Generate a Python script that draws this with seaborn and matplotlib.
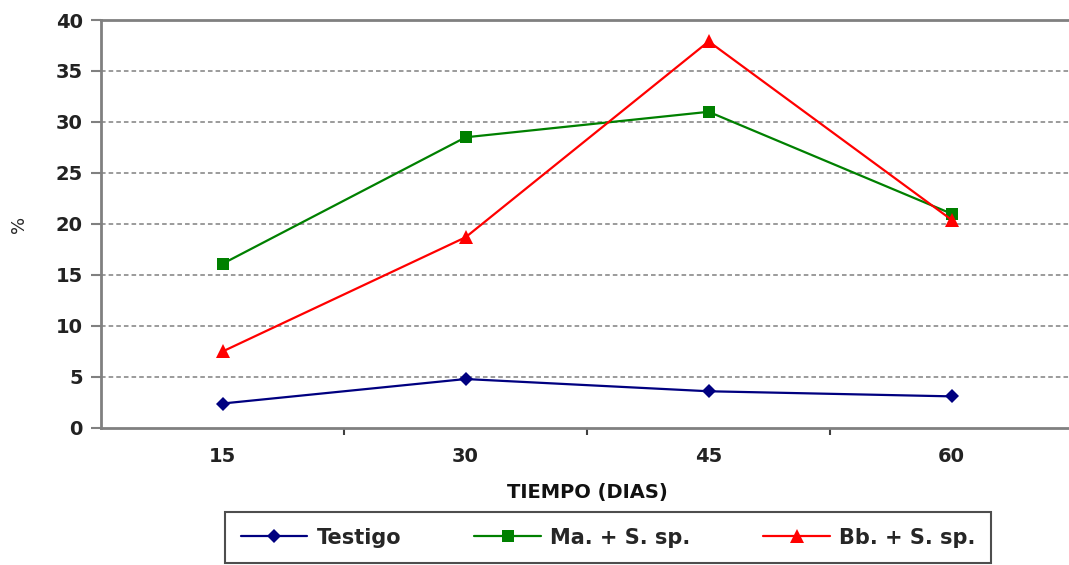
import matplotlib
matplotlib.use("Agg")
import matplotlib.pyplot as plt
import seaborn as sns
import pandas as pd
from matplotlib.ticker import FixedLocator

dias = ["15", "30", "45", "60"]
testigo = [2.4, 4.8, 3.6, 3.1]
ma_ssp = [16.1, 28.5, 31.0, 21.0]
bb_ssp = [7.5, 18.7, 37.9, 20.4]
series_names = ["Testigo", "Ma. + S. sp.", "Bb. + S. sp."]
y_ticks = [0, 5, 10, 15, 20, 25, 30, 35, 40]

rows = []
for name, vals in zip(series_names, [testigo, ma_ssp, bb_ssp]):
    for d, v in zip(dias, vals):
        rows.append({"dia": d, "valor": v, "serie": name})
df = pd.DataFrame(rows)

sns.set_style("white")
plt.rcParams['font.family'] = ['DejaVu Sans']

fig = plt.figure(figsize=(10.69, 5.65), dpi=100)
ax = fig.add_axes([0.0945, 0.2425, 1.004 - 0.0945, 0.7221])

palette = {"Testigo": "#000080", "Ma. + S. sp.": "#008000", "Bb. + S. sp.": "#FF0000"}
markers = {"Testigo": "D", "Ma. + S. sp.": "s", "Bb. + S. sp.": "^"}
sns.lineplot(data=df, x="dia", y="valor", hue="serie", style="serie",
             palette=palette, markers=markers, dashes=False, markersize=8,
             markeredgewidth=0, linewidth=1.6, ax=ax, sort=False)

msize = {"D": 7.5, "s": 8, "^": 10}
for ln in ax.lines:
    m = ln.get_marker()
    if m in msize:
        ln.set_markersize(msize[m])

ax.set_xlim(-0.5, 3.5)
ax.set_ylim(0, 40)
ax.set_yticks(y_ticks)
ax.set_xticks(range(len(dias)))
ax.set_xticklabels(dias)
ax.xaxis.set_minor_locator(FixedLocator([0.5, 1.5, 2.5]))

for y in y_ticks[1:-1]:
    ax.axhline(y, color="#808080", linestyle=(0, (3, 2)), linewidth=1.1, zorder=0)

for side in ["left", "bottom", "top"]:
    ax.spines[side].set_color("#808080")
    ax.spines[side].set_linewidth(2)
    ax.spines[side].set_visible(True)
ax.spines["right"].set_visible(False)

ax.tick_params(axis="y", which="major", length=7, width=1.5, color="#808080",
               direction="out", labelsize=14, pad=6, left=True)
ax.tick_params(axis="x", which="major", length=0, labelsize=14, pad=14)
ax.tick_params(axis="x", which="minor", length=5, width=1.5, color="#404040",
               direction="out", bottom=True)
for lbl in ax.get_xticklabels() + ax.get_yticklabels():
    lbl.set_fontweight("bold")
    lbl.set_color("#222222")

ax.set_xlabel("TIEMPO (DIAS)", fontsize=14, fontweight="bold", labelpad=12,
              color="#111111")
ax.set_ylabel("%", fontsize=13, labelpad=20)

handles, labels = ax.get_legend_handles_labels()
if ax.legend_:
    ax.legend_.remove()
for h in handles:
    m = h.get_marker()
    if m in msize:
        h.set_markersize(msize[m])
leg = fig.legend(handles, labels, loc="upper left",
                 bbox_to_anchor=(225 / 1069, 1 - 512 / 565),
                 ncol=3, frameon=True, fancybox=False, shadow=False,
                 prop={"weight": "bold", "size": 15}, columnspacing=3.5,
                 handlelength=3.2, handletextpad=0.45, borderpad=0.75,
                 borderaxespad=0)
leg.get_frame().set_edgecolor("#222222")
leg.get_frame().set_linewidth(1.5)

fig.savefig("out.png", dpi=100)
